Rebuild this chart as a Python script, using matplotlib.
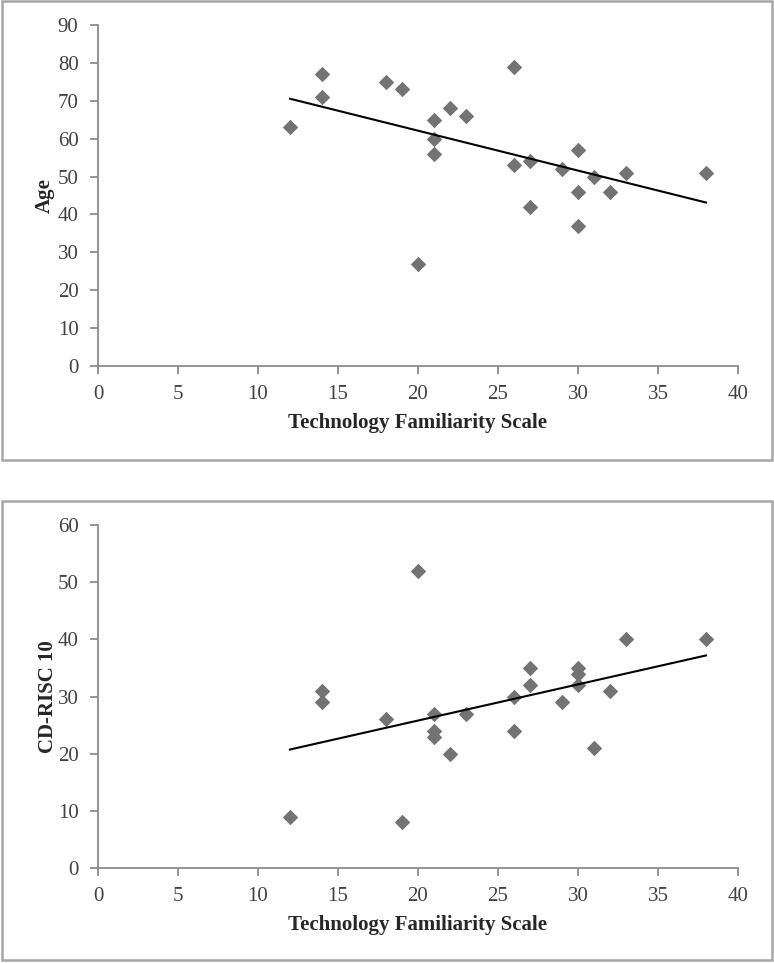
import matplotlib.pyplot as plt
import numpy as np
from matplotlib.patches import Rectangle

# Technology Familiarity Scale score for each participant (shared x)
tech_familiarity = [12, 14, 14, 18, 19, 20, 21, 21, 21, 22, 23, 26, 26,
                    27, 27, 29, 30, 30, 30, 31, 32, 33, 38]
age = [63, 77, 71, 75, 73, 27, 65, 60, 56, 68, 66, 79, 53,
       54, 42, 52, 57, 46, 37, 50, 46, 51, 51]
cd_risc = [9, 31, 29, 26, 8, 52, 27, 24, 23, 20, 27, 30, 24,
           35, 32, 29, 35, 34, 32, 21, 31, 40, 40]

x_ticks = [0, 5, 10, 15, 20, 25, 30, 35, 40]
age_ticks = [0, 10, 20, 30, 40, 50, 60, 70, 80, 90]
risc_ticks = [0, 10, 20, 30, 40, 50, 60]

SERIF = "Liberation Serif"
AXIS_GREY = "#8c8c8c"
TICK_TEXT = "#404040"
MARKER_GREY = "#737373"

W, H = 774, 963
fig = plt.figure(figsize=(W / 100, H / 100), dpi=100)


def px_box(left, top, right, bottom):
    """pixel box -> figure fraction [l, b, w, h]"""
    return [left / W, 1 - bottom / H, (right - left) / W, (bottom - top) / H]


def draw_panel(axes_px, frame_px, y, yticks, ylabel, ypad):
    # grey frame around the whole panel, like the pasted Excel chart
    l, b, w, h = px_box(*frame_px)
    fig.patches.append(Rectangle((l, b), w, h, transform=fig.transFigure,
                                 fill=False, edgecolor="#a6a6a6", lw=1.8))

    ax = fig.add_axes(px_box(*axes_px))
    x = np.array(tech_familiarity)
    y = np.array(y)
    ax.scatter(x, y, marker="D", s=62, color=MARKER_GREY, linewidths=0, zorder=3)

    # linear trend line over the data range
    slope, icpt = np.polyfit(x, y, 1)
    xs = np.array([x.min(), x.max()])
    ax.plot(xs, slope * xs + icpt, color="black", lw=1.5, zorder=4)

    ax.set_xlim(0, 40)
    ax.set_ylim(yticks[0], yticks[-1])
    ax.set_xticks(x_ticks)
    ax.set_yticks(yticks)
    for s in ["top", "right"]:
        ax.spines[s].set_visible(False)
    for s in ["left", "bottom"]:
        ax.spines[s].set_color(AXIS_GREY)
        ax.spines[s].set_linewidth(1.3)
    ax.tick_params(direction="out", length=6, width=1.3, color=AXIS_GREY,
                   labelsize=15, labelcolor=TICK_TEXT, pad=8)
    for lbl in ax.get_xticklabels() + ax.get_yticklabels():
        lbl.set_fontfamily(SERIF)

    ax.set_xlabel("Technology Familiarity Scale", fontfamily=SERIF,
                  fontweight="bold", fontsize=15, color="#262626", labelpad=6)
    ax.set_ylabel(ylabel, fontfamily=SERIF, fontweight="bold",
                  fontsize=15, color="#262626", labelpad=ypad)
    return ax


draw_panel((98, 25, 738, 366), (2, 1, 772, 460), age, age_ticks, "Age", 2)
draw_panel((98, 525, 738, 868), (2, 501, 772, 960), cd_risc, risc_ticks,
           "CD-RISC 10", 0)

fig.savefig("out.png", dpi=100)
